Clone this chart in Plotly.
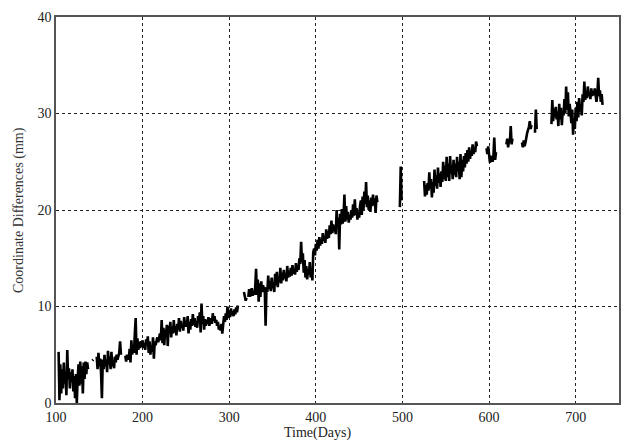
import plotly.graph_objects as go

# Each segment: first day, then one value (mm) per consecutive day
seg_a_start = 103
seg_a = [5.3, 0.3, 4.0, 1.0, 3.5, 1.5, 4.2, 2.0, 3.0, 0.8, 5.5, 2.5, 3.6, 1.5, 3.2, 2.2, 3.5, 1.2,
         2.8, 0.5, 3.0, 0.0, 2.5, 4.0, 1.8, 4.3, 2.0, 3.8, 1.0, 4.2, 2.5, 4.3, 3.0, 4.2, 3.5]
seg_dot_start = 142
seg_dot = [4.4, 4.5]
seg_b_start = 147
seg_b = [4.8, 3.5, 5.2, 3.8, 4.6, 3.2, 0.5, 4.5, 3.5, 5.0, 3.8, 4.5, 3.2, 5.4, 4.0, 4.8, 3.5, 5.3,
         3.8, 4.4, 3.6, 4.8, 4.2, 5.0, 4.5, 4.8, 5.2, 6.4, 5.0]
seg_c_start = 180
seg_c = [4.9, 4.3, 5.0, 4.6, 4.5, 5.6, 4.2, 6.5, 5.0, 6.0, 5.2, 7.2, 8.8, 5.0, 6.7, 5.5, 6.3, 5.7,
         6.4, 5.8, 6.5, 5.7, 6.2, 5.5, 6.6, 6.0, 6.9, 5.2, 6.4, 5.0, 6.0, 5.3, 6.8, 4.6, 6.4, 6.0,
         6.5, 6.8, 6.3, 6.9, 7.2, 6.5, 8.6, 6.2, 7.8, 6.0, 7.6, 7.0, 8.1, 5.9, 8.0, 7.3, 8.4, 6.8,
         7.9, 7.2, 8.6, 7.3, 8.0, 7.0, 8.2, 7.6, 8.8, 7.4, 8.5, 7.8, 8.2, 7.5, 8.9, 7.9, 8.5, 7.9,
         9.0, 7.2, 8.4, 7.6, 8.7, 8.0, 9.2, 8.1, 8.8, 7.9, 8.5, 7.8, 9.0, 8.3, 9.4, 7.3, 10.3, 8.2,
         9.0, 7.6, 8.7, 8.0, 8.6, 8.2, 8.9, 8.0, 8.4, 8.8, 8.2, 9.3, 8.5, 9.0, 8.3, 8.6, 8.0, 8.4,
         7.6, 8.0, 7.5, 8.2, 7.2, 8.6, 9.0, 8.4, 9.3, 8.6, 10.0, 8.8, 9.6, 8.9, 9.8, 9.1, 9.5, 9.0,
         9.7, 9.2, 9.9, 9.4, 10.1]
seg_s_start = 317
seg_s = [11.5, 10.8, 10.6, 10.9]
seg_d_start = 322
seg_d = [11.0, 11.8, 11.0, 11.5, 11.9, 11.1, 11.6, 11.2, 12.0, 13.9, 11.2, 12.8, 10.5, 12.4, 11.0,
         12.6, 11.5, 12.2, 11.8, 12.0, 8.0, 12.0, 11.5, 13.2, 11.8, 12.6, 11.6, 13.0, 11.9, 12.4,
         11.5, 13.4, 12.2, 13.6, 12.0, 13.0, 12.5, 14.0, 12.4, 13.5, 12.7, 13.8, 12.9, 13.4, 12.6,
         14.2, 13.0, 13.7, 13.1, 14.0, 13.2, 14.3, 13.4, 13.9, 13.3, 14.5, 13.6, 14.2, 13.8, 15.0,
         14.4, 16.7, 14.6, 15.5, 13.5, 14.8, 13.0, 14.2, 12.8, 13.9, 13.3, 14.6, 13.0, 13.8, 12.7,
         15.6, 16.0, 15.3, 16.5, 15.8, 16.9, 16.0, 17.2, 16.3, 17.0, 16.5, 17.6, 16.8, 17.3, 16.6,
         18.0, 17.0, 17.8, 17.1, 18.4, 17.5, 18.9, 17.6, 18.5, 17.8, 18.2, 17.5, 20.0, 18.3, 19.2,
         15.9, 19.6, 18.5, 20.1, 18.6, 19.4, 21.6, 18.8, 20.4, 19.0, 19.8, 18.7, 19.5, 19.0, 20.0,
         19.2, 20.6, 19.4, 21.1, 19.5, 20.2, 19.0, 19.8, 19.2, 20.4, 21.0, 19.5, 21.4, 20.0, 21.9,
         20.6, 22.9, 20.3, 21.5, 20.0, 21.0, 19.8, 21.3, 20.4, 21.6, 20.5, 21.2, 19.7, 21.5, 20.8]
seg_e_start = 497
seg_e = [20.3, 24.5, 21.0]
seg_f_start = 525
seg_f = [23.0, 21.4, 22.6, 21.6, 22.8, 22.0, 23.9, 22.2, 23.2, 21.3, 22.9, 21.8, 24.2, 22.5, 23.6,
         22.2, 24.4, 22.8, 23.8, 22.4, 24.0, 22.9, 25.0, 23.2, 24.6, 23.0, 25.5, 23.4, 24.8, 23.0,
         25.6, 23.8, 24.6, 23.2, 25.2, 23.6, 24.8, 23.4, 25.5, 24.0, 25.0, 23.2, 25.8, 23.4, 25.2,
         24.0, 25.6, 24.4, 25.9, 24.8, 26.2, 25.0, 26.5, 25.3, 26.0, 25.6, 26.8, 25.8, 26.3, 26.0,
         27.1, 26.6]
seg_g_start = 597
seg_g = [26.4, 25.8, 26.6, 25.4, 24.9, 25.6, 25.2, 25.0, 25.5, 27.5, 25.2, 26.0]
seg_h_start = 620
seg_h = [26.8, 27.4, 26.5, 27.2, 27.0, 28.7, 26.8, 27.4]
seg_i_start = 638
seg_i = [27.0, 26.5, 27.2, 26.6, 27.0, 27.8, 28.0, 28.3, 28.6, 29.2, 28.4, 28.8]
seg_j_start = 653
seg_j = [28.0, 30.4, 28.4]
seg_k_start = 672
seg_k = [28.9, 31.4, 29.2, 30.5, 29.6, 30.7, 29.4, 30.2, 28.7, 31.0, 29.4, 30.6, 28.8, 30.2, 29.8,
         31.5, 30.0, 32.8, 30.4, 32.2, 29.7, 31.0, 30.2, 29.0, 30.4, 27.8, 29.5, 28.4, 30.6, 29.2,
         31.2, 29.6, 31.6, 30.2, 31.0, 29.8, 32.0, 31.2, 33.3, 31.4, 32.4, 31.6, 32.8, 31.8, 32.2,
         31.5, 32.6, 31.8, 32.3, 31.9, 32.6, 32.0, 31.2, 32.0, 33.7, 31.8, 32.4, 31.2, 32.0, 30.9]

x_ticks = [100, 200, 300, 400, 500, 600, 700]
y_ticks = [0, 10, 20, 30, 40]
x_title = "Time(Days)"
y_title = "Coordinate Differences (mm)"

segments = [(seg_a_start, seg_a), (seg_dot_start, seg_dot), (seg_b_start, seg_b),
            (seg_c_start, seg_c), (seg_s_start, seg_s), (seg_d_start, seg_d),
            (seg_e_start, seg_e), (seg_f_start, seg_f), (seg_g_start, seg_g),
            (seg_h_start, seg_h), (seg_i_start, seg_i), (seg_j_start, seg_j),
            (seg_k_start, seg_k)]

xs, ys = [], []
for start, vals in segments:
    xs.extend(start + i for i in range(len(vals)))
    ys.extend(vals)
    xs.append(None)
    ys.append(None)

fig = go.Figure()
fig.add_trace(go.Scatter(x=xs, y=ys, mode="lines", connectgaps=False,
                         line=dict(color="black", width=2.6), showlegend=False))

font_family = "Liberation Serif, Times New Roman, serif"
axis_common = dict(
    showline=True, linecolor="#555555", linewidth=1.5, mirror=True,
    showgrid=True, gridcolor="#222222", gridwidth=1, griddash="3px,3px",
    zeroline=False, ticks="", automargin=False,
    tickfont=dict(family=font_family, size=14, color="#222222"),
)
fig.update_layout(
    width=621, height=441,
    margin=dict(l=56, r=2, t=17, b=38),
    paper_bgcolor="white", plot_bgcolor="white",
    xaxis=dict(range=[100, 750], tickvals=x_ticks, ticktext=[str(v) for v in x_ticks],
               **axis_common),
    yaxis=dict(range=[0, 40], tickvals=y_ticks, ticktext=[str(v) for v in y_ticks],
               **axis_common),
    annotations=[
        dict(text=x_title, xref="paper", yref="paper", x=0.465, y=0, yshift=-30,
             xanchor="center", yanchor="middle", showarrow=False,
             font=dict(family=font_family, size=14, color="#222222")),
        dict(text=y_title, xref="paper", yref="paper", x=0, xshift=-37, y=0.5,
             xanchor="center", yanchor="middle", textangle=-90, showarrow=False,
             font=dict(family=font_family, size=14, color="#333333")),
    ],
)
fig.write_html("out.html", config={"displayModeBar": False},
               post_script="document.body.style.margin='0px';document.body.style.overflow='hidden';")
